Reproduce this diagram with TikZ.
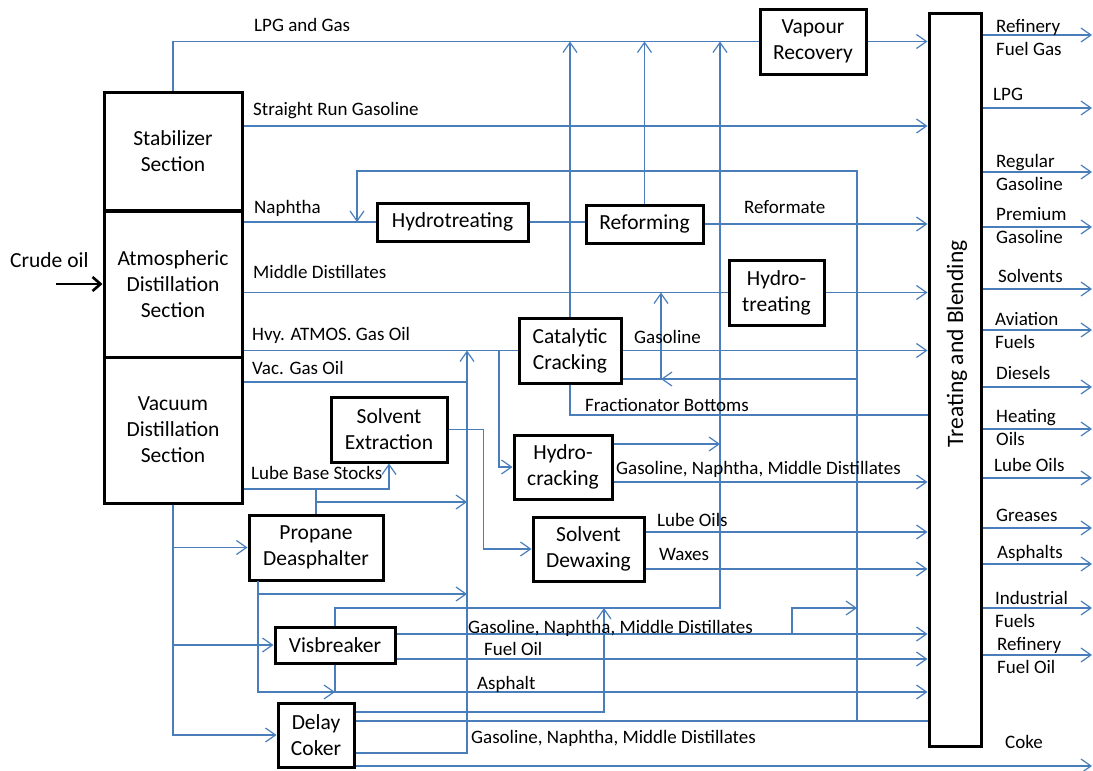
\documentclass[tikz,border=0pt]{standalone}
\usepackage{fontspec}
\setmainfont{Carlito}
\usepackage{tikz}
\usetikzlibrary{arrows.meta}
\definecolor{flowblue}{HTML}{4A7EBB}
\newcommand\unitfont{\fontsize{21.5}{26}\selectfont}
\newcommand\flowfont{\fontsize{19}{22.5}\selectfont}
\newcommand\tbfont{\fontsize{23.5}{26}\selectfont}

\begin{document}
\begin{tikzpicture}[x=1pt, y=-1pt,
  unit/.style={draw, line width=3pt, inner sep=0pt, align=center, font=\unitfont},
  flow/.style={draw=flowblue, line width=1.2pt},
  feed/.style={flow, -{Straight Barb[length=10pt,width=14pt]}},
  lab/.style={inner sep=0pt, anchor=base west, font=\flowfont},
  prod/.style={lab, align=left}]
\useasboundingbox (0,0) rectangle (1093,771);

% process units
\node[unit, minimum width=138, minimum height=118] (stab) at (173,151) {Stabilizer\\Section};
\node[unit, minimum width=138, minimum height=146] (atm) at (173,284) {Atmospheric\\Distillation\\Section};
\node[unit, minimum width=138, minimum height=146] (vac) at (173,430) {Vacuum\\Distillation\\Section};
\node[unit, minimum width=106, minimum height=65] (vapour) at (813,41.5) {Vapour\\Recovery};
\node[unit, minimum width=151, minimum height=38] (hydrotreat) at (452.5,222) {Hydrotreating};
\node[unit, minimum width=117, minimum height=38] (reform) at (644.5,224) {Reforming};
\node[unit, minimum width=95, minimum height=65] (hydrotreat2) at (776.5,292.5) {Hydro-\\treating};
\node[unit, minimum width=102, minimum height=65] (catcrack) at (570,350.5) {Catalytic\\Cracking};
\node[unit, minimum width=116, minimum height=65] (solvext) at (389,429.5) {Solvent\\Extraction};
\node[unit, minimum width=98, minimum height=64] (hydrocrack) at (563,467) {Hydro-\\cracking};
\node[unit, minimum width=111, minimum height=64] (dewax) at (588.5,549) {Solvent\\Dewaxing};
\node[unit, minimum width=134, minimum height=65] (propane) at (316,547.5) {Propane\\Deasphalter};
\node[unit, minimum width=120, minimum height=36] (visbreak) at (335,645) {Visbreaker};
\node[unit, minimum width=76, minimum height=64] (coker) at (316,735) {Delay\\Coker};
\node[draw, line width=3pt, minimum width=52, minimum height=733] (tb) at (955,379.5) {};
\node[rotate=90, inner sep=0pt, font=\tbfont] (tblab) at (957,344) {Treating and Blending};

% crude feed
\node[inner sep=0pt, anchor=base west, font=\unitfont] (crude) at (10,267) {Crude oil};
\coordinate (crudein) at (56,284);
\draw[line width=2.6pt, -{Straight Barb[length=8pt,width=14pt]}] (crudein) -- (atm.west);

% junction points
\coordinate (rcybot) at (857,721);
\coordinate (rcytop) at (357,171);
\coordinate (hvytee) at (499,350.5);
\coordinate (fcctee) at (661,292.5);
\coordinate (vgotop) at (467,350.5);
\coordinate (visup) at (720,608);
\coordinate (gnmtee) at (792,634);
\coordinate (cokup) at (604,608);
\coordinate (pdb) at (258,581);

% light ends
\draw[flow] (stab.north) |- (vapour.west);
\draw[feed] (vapour.east) -- (vapour.east -| tb.west);
\foreach \u in {catcrack,reform}
  \draw[feed] (\u.north) -- (\u.north |- vapour.west);
\draw[feed] (visbreak.north) |- (visup) -- (visup |- vapour.west);
\draw[feed] (stab.east |- 0,126) -- (tb.west |- 0,126);

% naphtha and recycle
\draw[flow] (atm.east |- hydrotreat.west) -- (hydrotreat.west);
\draw[flow] (hydrotreat.east) -- (hydrotreat.east -| reform.west);
\draw[feed] (reform.east) -- (reform.east -| tb.west);
\draw[feed] (rcybot) |- (rcytop) -- (rcytop |- hydrotreat.west);

% middle distillates
\draw[flow] (atm.east |- hydrotreat2.west) -- (hydrotreat2.west);
\draw[feed] (hydrotreat2.east) -- (hydrotreat2.east -| tb.west);

% gas oils
\draw[flow] (atm.east |- catcrack.west) -- (catcrack.west);
\draw[feed] (catcrack.east) -- (catcrack.east -| tb.west);
\draw[feed] (hvytee) |- (hydrocrack.west);
\draw[flow] (catcrack.south) |- (tb.west |- 0,415);
\draw[feed] (catcrack.east |- 0,379) -| (fcctee);
\draw[feed] (rcybot |- 0,379) -- (fcctee |- 0,379);
\draw[flow] (vac.east |- 0,382) -- (vgotop |- 0,382);
\draw[feed] (coker.east |- 0,753) -| (vgotop);

% lube train
\draw[feed] (vac.east |- 0,489) -| (solvext.south);
\draw[flow] (propane.north |- 0,489) -- (propane.north);
\draw[feed] (propane.north |- 0,502) -- (vgotop |- 0,502);
\draw[feed] (solvext.east) -- ++(35,0) |- (dewax.west);
\draw[feed] (hydrocrack.east |- 0,444) -- (visup |- 0,444);
\draw[feed] (hydrocrack.east |- 0,482) -- (tb.west |- 0,482);
\draw[feed] (dewax.east |- 0,532) -- (tb.west |- 0,532);
\draw[feed] (dewax.east |- 0,569) -- (tb.west |- 0,569);

% vacuum residue
\draw[feed] (vac.south) |- (coker.west);
\foreach \u in {propane,visbreak}
  \draw[feed] (vac.south |- \u.west) -- (\u.west);
\draw[feed] (pdb) |- (visbreak.south |- 0,692);
\draw[feed] (pdb |- 0,594) -- (vgotop |- 0,594);
\draw[feed] (visbreak.south) |- (tb.west |- 0,692);
\draw[feed] (visbreak.east |- 0,634) -- (tb.west |- 0,634);
\draw[feed] (visbreak.east |- 0,659) -- (tb.west |- 0,659);
\draw[feed] (gnmtee) |- (rcybot |- 0,608);
\draw[feed] (coker.east |- 0,712) -| (cokup);
\draw[flow] (coker.east |- 0,721) -- (tb.west |- 0,721);
\draw[feed] (coker.east |- 0,766) -- (1092,766);

% products
\foreach \y in {35,108,172,227,289,330,387,429,478,528,564,608,655}
  \draw[feed] (tb.east |- 0,\y) -- (1092,\y);

% stream labels
\node[lab] (lpglab) at (254,31) {LPG and Gas};
\node[lab] (srglab) at (253,115) {Straight Run Gasoline};
\node[lab] (naphlab) at (254,213) {Naphtha};
\node[lab] (mdlab) at (253,278) {Middle Distillates};
\node[lab] (hagolab) at (252,340) {Hvy. ATMOS. Gas Oil};
\node[lab] (vgolab) at (252,374) {Vac. Gas Oil};
\node[lab] (lbslab) at (251,479) {Lube Base Stocks};
\node[lab] (reflab) at (744,213) {Reformate};
\node[lab] (fcclab) at (634,343) {Gasoline};
\node[lab] (botlab) at (585,411) {Fractionator Bottoms};
\node[lab] (hcklab) at (616,474) {Gasoline, Naphtha, Middle Distillates};
\node[lab] (lubelab) at (657,526) {Lube Oils};
\node[lab] (waxlab) at (659,560) {Waxes};
\node[lab] (vislab) at (468,633) {Gasoline, Naphtha, Middle Distillates};
\node[lab] (fuellab) at (484,655) {Fuel Oil};
\node[lab] (asphlab) at (477,689) {Asphalt};
\node[lab] (coklab) at (471,743) {Gasoline, Naphtha, Middle Distillates};

% product labels (base = last line)
\node[prod] (rfglab) at (996,55) {Refinery\\Fuel Gas};
\node[prod] (lpgout) at (993,100) {LPG};
\node[prod] (reglab) at (996,190) {Regular\\Gasoline};
\node[prod] (premlab) at (996,243) {Premium\\Gasoline};
\node[prod] (solvlab) at (998,282) {Solvents};
\node[prod] (avlab) at (995,348) {Aviation\\Fuels};
\node[prod] (diesellab) at (996,379) {Diesels};
\node[prod] (heatlab) at (996,445) {Heating\\Oils};
\node[prod] (lubeout) at (994,471) {Lube Oils};
\node[prod] (greaselab) at (996,521) {Greases};
\node[prod] (asphout) at (997,558) {Asphalts};
\node[prod] (indlab) at (995,627) {Industrial\\Fuels};
\node[prod] (rfolab) at (997,673) {Refinery\\Fuel Oil};
\node[prod] (cokeout) at (1005,748) {Coke};
\end{tikzpicture}
\end{document}
